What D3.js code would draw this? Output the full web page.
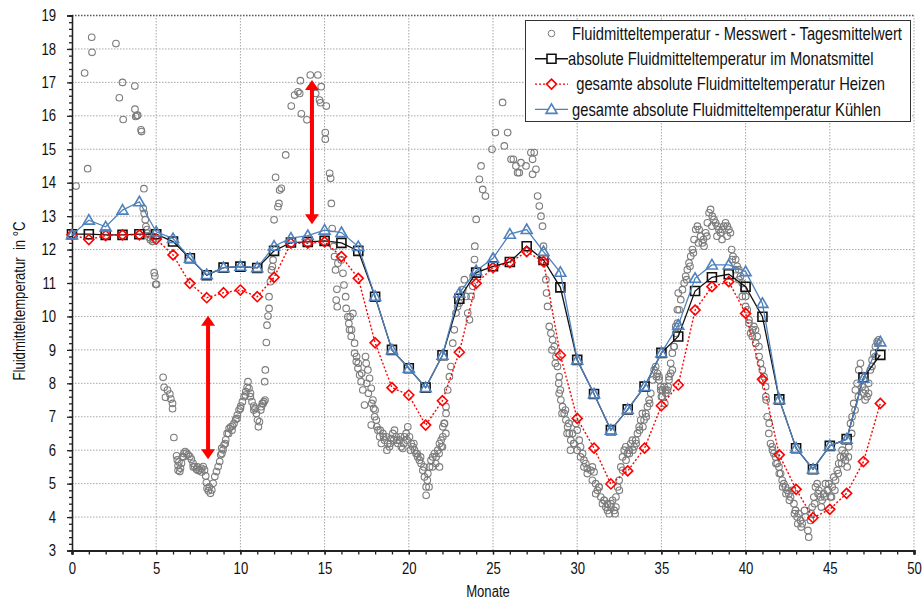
<!DOCTYPE html>
<html>
<head>
<meta charset="utf-8">
<script src="https://cdn.jsdelivr.net/npm/d3@7"></script>
<style>
  body { margin: 0; background: #fff; }
  text { font-family: "Liberation Sans", Arial, sans-serif; fill: #111; }
</style>
</head>
<body>
<svg id="chart" width="922" height="601"></svg>
<script>
// --- data ---
const months = d3.range(0, 49);

const monthlyMean = [
  12.46, 12.46, 12.44, 12.44, 12.46, 12.46, 12.24, 11.74, 11.23, 11.46,
  11.49, 11.45, 11.96, 12.21, 12.23, 12.26, 12.2, 11.96, 10.59, 9.0,
  8.45, 7.87, 8.84, 10.53, 11.31, 11.5, 11.63, 12.1, 11.69, 10.87,
  8.7, 7.68, 6.6, 7.22, 7.9, 8.91, 9.4, 10.76, 11.17, 11.26,
  10.89, 9.99, 7.52, 6.06, 5.43, 6.13, 6.33, 8.17, 8.85
];

const heatingTemp = [
  12.44, 12.3, 12.42, 12.44, 12.44, 12.31, 11.84, 10.99, 10.56, 10.71,
  10.79, 10.59, 11.17, 12.19, 12.19, 12.23, 11.79, 11.14, 9.21, 7.87,
  7.65, 6.75, 7.48, 8.93, 10.99, 11.46, 11.61, 11.94, 11.64, 8.84,
  6.95, 6.06, 4.99, 5.38, 6.06, 7.33, 7.95, 10.19, 10.89, 11.04,
  10.09, 8.12, 5.86, 4.83, 3.98, 4.23, 4.71, 5.66, 7.4
];

const coolingTemp = [
  12.44, 12.88, 12.68, 13.18, 13.43, 12.53, 12.33, 11.74, 11.25, 11.46,
  11.5, 11.46, 12.1, 12.34, 12.42, 12.58, 12.51, 12.09, 10.6, 9.0,
  8.45, 7.87, 8.84, 10.7, 11.37, 11.74, 12.46, 12.6, 11.94, 11.32,
  8.7, 7.68, 6.6, 7.22, 7.9, 8.91, 9.74, 11.14, 11.54, 11.54,
  11.34, 10.39, 7.52, 6.06, 5.43, 6.13, 6.33, 8.15, 9.24
];

// daily means: [month, temperature]
const dailyPoints = [
  [0.24,13.9],[0.75,17.28],[0.93,14.42],[1.17,18.35],[1.19,17.9],[2.61,18.16],[2.81,16.54],[3.0,17.0],
  [3.04,15.89],[3.73,16.89],[3.74,16.2],[3.78,15.98],[3.85,16.0],[3.9,16.02],[4.1,15.58],[4.13,15.53],
  [4.27,13.82],[4.23,13.23],[4.29,13.08],[4.35,12.89],[4.39,12.69],[4.45,12.6],[4.49,12.49],[4.57,12.37],
  [4.66,12.29],[4.72,12.42],[4.78,12.24],[4.84,12.3],[4.88,11.31],[4.92,11.21],[4.97,10.96],[5.02,10.96],
  [5.41,8.18],[5.47,7.88],[5.55,7.58],[5.67,7.8],[5.81,7.68],[5.87,7.53],[5.97,7.4],[5.97,7.24],[6.05,6.38],
  [6.21,5.83],[6.25,5.71],[6.3,5.54],[6.4,5.36],[6.44,5.46],[6.5,5.61],[6.56,5.81],[6.64,5.9],[6.72,5.96],
  [6.8,5.91],[6.9,5.86],[7.0,5.81],[7.09,5.73],[7.19,5.61],[7.29,5.51],[7.39,5.43],[7.49,5.39],[7.59,5.41],
  [7.69,5.46],[7.79,5.51],[7.87,5.41],[7.94,5.23],[7.98,5.03],[8.02,4.86],[8.1,4.79],[8.22,4.71],[8.3,4.81],
  [8.38,5.01],[8.48,5.21],[8.58,5.36],[8.68,5.51],[8.77,5.66],[8.83,5.86],[8.89,6.06],[8.97,6.01],[9.03,6.16],
  [9.13,6.31],[9.21,6.5],[9.33,6.65],[9.43,6.7],[9.53,6.72],[9.62,6.8],[9.72,6.92],[9.82,7.05],[9.92,7.2],
  [10.02,7.32],[10.12,7.45],[10.22,7.6],[10.32,7.75],[10.4,7.88],[10.45,8.05],[10.51,7.85],[10.59,7.6],
  [10.69,7.45],[10.79,7.32],[10.87,7.25],[10.95,7.1],[11.01,6.9],[11.07,6.7],[11.13,6.85],[11.21,7.2],
  [11.3,7.4],[11.4,7.45],[11.46,7.5],[11.44,8.05],[11.48,8.4],[11.54,9.22],[11.58,9.74],[11.64,10.01],[11.7,10.24],
  [6.3,5.4],[6.35,5.65],[6.62,5.8],[7.2,5.5],[7.45,5.5],[7.7,5.35],[8.15,4.9],[8.9,5.9],[9.1,6.2],[9.3,6.5],
  [9.5,6.6],[9.8,6.95],[10.0,7.25],[10.3,7.65],[10.6,7.7],[10.8,7.2],[11.25,7.3],[11.35,7.4],
  [11.7,10.59],[11.78,11.04],[11.84,11.39],[11.94,11.69],[11.9,11.49],[12.0,12.89],[12.09,14.16],[12.23,13.28],
  [12.29,13.38],[12.33,13.78],[12.43,13.83],[12.69,14.83],[13.02,16.29],[13.22,16.62],[13.42,16.72],[13.52,16.67],
  [13.56,17.05],[13.62,16.06],[13.95,15.88],[14.15,17.22],[14.6,17.22],[14.47,16.67],[14.7,16.47],[14.8,16.87],
  [14.76,16.39],[15.1,16.29],[15.04,15.5],[15.04,15.3],[15.3,14.28],[15.36,14.13],[15.4,13.38],[15.45,12.63],
  [15.53,12.09],[15.59,11.79],[15.65,11.39],[15.73,10.81],[15.69,10.49],[15.75,10.29],[15.79,11.59],[15.99,11.69],
  [16.09,11.29],[16.15,10.94],[16.25,10.59],[16.28,10.24],[16.38,9.99],[16.44,9.79],[16.52,9.99],[16.48,9.6],
  [16.58,9.4],[16.68,10.09],[16.78,9.2],[16.78,8.9],[16.88,8.65],[16.98,8.45],[17.08,8.25],[17.17,8.05],
  [17.27,7.8],[17.37,7.35],[17.43,8.8],[17.47,8.6],[17.57,8.4],[17.67,8.15],[17.77,7.85],[17.87,7.5],
  [17.91,7.25],[17.97,7.0],[17.77,6.75],[18.07,6.9],[18.17,6.6],[18.27,6.4],[18.37,6.2],[18.46,6.5],
  [18.56,6.3],[18.66,6.4],[18.75,6.2],[18.85,6.1],[18.95,6.35],[19.05,6.5],[19.15,6.6],[19.25,6.4],
  [19.35,6.2],[19.45,6.3],[19.55,6.1],[19.64,6.05],[19.74,6.4],[19.84,6.5],[19.94,6.7],[20.04,6.4],
  [20.14,6.2],[20.24,6.1],[20.34,6.0],[20.43,5.9],[20.53,5.8],[20.63,5.7],[20.73,5.6],[20.83,5.4],
  [20.93,5.2],[21.03,4.9],[21.03,4.65],[21.13,5.3],[21.23,5.5],[21.32,5.7],[21.42,5.8],[21.52,5.9],
  [21.62,5.8],[21.72,6.0],[21.82,6.2],[21.92,6.3],[22.02,6.4],[22.12,6.8],[22.21,7.1],
  [16.6,9.6],[16.9,8.8],[17.0,8.6],[17.2,8.3],[17.5,8.0],[17.6,7.7],[17.8,7.4],[18.0,7.2],[18.1,6.7],
  [18.3,6.6],[18.5,6.4],[18.7,6.0],[18.9,6.2],[19.1,6.3],[19.3,6.3],[19.5,6.4],[19.7,6.2],[19.9,6.3],
  [20.1,6.0],[20.3,6.2],[20.5,5.9],[20.7,5.8],[20.9,5.5],[21.1,5.1],[21.2,4.9],[21.4,5.5],[21.6,5.6],
  [21.8,5.9],[22.0,6.1],[22.2,6.5],
  [21.82,5.5],[21.92,6.1],[22.02,6.7],[22.1,6.8],[22.21,7.3],[22.31,7.8],[22.41,8.2],[22.5,8.5],[22.61,9.2],
  [22.7,9.6],[22.8,10.1],[22.9,10.3],[23.0,10.4],[23.1,10.6],[23.2,10.8],[23.3,11.1],[23.4,10.6],[23.5,10.1],
  [23.6,9.9],[23.7,10.6],[23.8,10.9],[23.82,11.2],[23.9,11.7],[23.92,12.1],[24.0,12.9],[24.19,14.1],
  [24.29,14.5],[24.39,13.8],[24.55,13.6],[24.94,15.0],[25.14,15.5],[25.57,16.4],[25.67,15.1],[25.87,15.5],
  [26.07,14.7],[26.21,14.7],[26.36,14.5],[26.46,14.3],[26.56,14.3],[26.66,14.6],[26.96,14.5],[27.25,14.9],
  [27.35,14.7],[27.45,14.9],[27.55,14.4],[27.35,14.25],[27.65,13.6],[27.75,13.3],[27.85,13.0],[27.94,12.7],
  [28.0,12.1],[28.04,11.6],[28.14,11.1],[28.18,10.7],[28.24,10.3],[28.34,9.7],[28.44,9.5],[28.54,9.3],
  [28.64,9.1],[28.74,8.8],[28.83,8.5],[28.93,8.2],[28.93,7.7],[29.03,7.5],[29.13,7.3],[29.23,7.1],
  [29.33,6.9],[29.43,6.7],[29.53,6.5],[29.62,6.3],[29.72,6.5],[29.8,6.2],[29.92,6.8],[30.0,6.6],
  [30.12,6.3],[30.2,6.1],[30.32,5.9],[30.4,5.7],[30.51,5.6],[30.6,5.45],[30.81,5.4],[30.9,5.5],
  [31.0,5.35],[31.1,5.0],[31.2,4.8],[31.3,4.9],[31.4,4.6],[31.5,4.4],[31.6,4.5],[31.7,4.3],[31.8,4.2],
  [31.9,4.1],[32.0,4.3],[32.1,4.5],[32.2,4.2],[32.25,4.1],[32.3,4.6],[32.4,4.9],[32.49,5.1],[32.59,5.5],
  [32.69,5.8],[32.79,6.0],[32.88,6.1],[32.98,5.9],[33.08,6.0],[33.18,6.2],[33.28,6.3],[33.38,6.1],
  [33.48,6.3],[33.58,6.5],[33.68,6.7],[33.77,6.9],[33.87,7.1],[33.97,6.9],[34.07,7.1],[34.17,7.3],
  [34.27,7.5],[34.37,7.7],[34.47,8.1],[34.57,8.4],[34.66,8.5],[34.76,8.3],[34.86,8.1],[34.96,7.9],
  [35.06,7.8],[35.16,7.9],[35.26,7.7],[35.36,7.8],[35.45,8.1],[35.55,8.3],[35.65,8.4],[35.75,9.1],
  [35.85,9.7],[35.95,10.2],[36.0,10.7],
  [28.5,9.0],[28.7,8.6],[28.9,8.0],[29.0,7.8],[29.1,7.1],[29.3,7.2],[29.4,6.5],[29.5,6.8],[29.6,6.0],
  [29.8,6.2],[30.0,6.0],[30.2,5.8],[30.4,5.5],[30.6,5.3],[30.9,5.1],[31.1,4.7],[31.3,4.9],[31.6,4.5],
  [31.8,4.4],[32.0,4.4],[32.3,4.3],[32.5,4.8],[32.7,5.4],[32.9,5.7],[33.1,5.9],[33.3,6.0],[33.5,6.2],
  [33.7,6.6],[33.9,6.7],[34.1,7.0],[34.3,7.4],[34.7,8.2],[35.0,7.6],[35.2,7.4],[35.4,7.9],
  [34.86,8.2],[34.96,7.8],[35.06,7.6],[35.26,7.8],[35.45,8.2],[35.55,8.6],[35.65,8.9],[35.75,9.1],
  [35.85,9.5],[35.95,9.8],[36.05,10.2],[36.15,10.5],[36.25,10.8],[36.35,11.0],[36.44,11.2],[36.54,11.4],
  [36.64,11.6],[36.74,11.8],[36.84,12.0],[36.94,12.3],[37.04,12.6],[37.14,12.7],[37.24,12.6],[37.33,12.4],
  [37.43,12.2],[37.53,12.1],[37.63,12.5],[37.73,12.8],[37.83,13.1],[37.92,13.2],[38.02,13.0],[38.12,12.9],
  [38.22,12.8],[38.32,12.7],[38.42,12.6],[38.51,12.5],[38.61,12.6],[38.71,12.7],[38.81,12.8],[38.91,12.7],
  [39.01,12.6],[39.1,12.5],[39.17,12.0],[39.25,11.8],[39.41,11.7],[39.5,11.5],[39.6,11.4],[39.7,11.2],
  [39.8,11.0],[39.9,10.8],[40.0,10.6],[40.1,10.2],[40.2,9.8],[40.3,9.5],[40.4,9.6],[40.49,9.7],
  [40.59,9.6],[40.69,9.4],[40.79,9.1],[40.89,8.6],[40.99,8.4],[41.09,8.2],[41.19,7.9],[41.22,7.5],
  [41.28,7.0],[41.38,6.5],[41.48,6.2],[41.58,6.1],[41.68,5.9],[41.78,5.8],[41.88,5.6],[41.98,5.5],
  [42.08,5.3],[42.17,5.1],[42.27,5.0],[42.37,4.9],[42.47,4.8],[42.57,4.7],[42.67,4.6],[42.77,4.8],
  [42.87,4.4],[42.96,4.2],[43.06,4.0],[43.16,4.1],[43.26,3.9],[43.36,3.8],[43.56,4.0],[43.75,3.4],
  [43.85,3.9],[43.95,4.3],[44.05,4.6],[44.15,4.9],[44.25,5.0],[44.35,4.8],[44.45,4.6],[44.54,4.5],
  [44.64,4.7],[44.74,5.0],[44.84,4.8],[44.94,5.0],[45.04,4.6],[45.14,4.9],[45.24,5.2],[45.34,5.1],
  [45.44,5.4],[45.53,5.6],[45.63,5.8],[45.73,6.0],[45.83,5.8],[45.93,5.7],[46.03,5.5],[46.13,6.1],
  [46.23,6.8],[46.32,7.0],[46.42,7.4],[46.52,7.8],[46.62,8.0],[46.72,8.4],[46.82,8.6],[46.92,7.9],
  [47.02,7.7],[47.11,7.8],[47.21,7.6],[47.31,8.0],[47.41,8.4],[47.51,8.7],[47.61,8.9],[47.71,9.1],
  [47.81,9.25],[47.9,9.3],
  [36.5,11.1],[36.7,11.5],[36.9,11.9],[37.2,12.2],[37.5,12.3],[37.7,12.4],[38.0,12.7],[38.3,12.4],
  [38.6,12.3],[38.9,12.4],[39.2,11.7],[39.4,11.4],[39.6,11.1],[39.8,10.6],[40.0,10.3],[40.2,9.9],
  [40.4,9.4],[40.6,9.2],[40.8,8.8],[41.0,8.1],[41.2,7.6],[41.4,6.8],[41.6,6.0],[41.8,5.6],[42.0,5.3],
  [42.2,4.9],[42.4,4.7],[42.6,4.5],[42.9,4.1],[43.1,3.8],[43.3,3.7],[43.5,4.2],[43.7,3.6],[43.9,4.1],
  [44.1,4.4],[44.3,4.7],[44.5,4.3],[44.7,4.6],[44.9,4.8],[45.1,4.6],[45.3,4.8],[45.5,5.3],[45.7,5.6],
  [45.9,5.9],[46.1,5.8],[46.3,6.5],[46.5,7.2],[46.7,7.6],[46.9,8.2],[47.1,7.5],[47.3,7.7],[47.5,8.5],
  [47.7,8.8],[47.85,9.2]
];

// annotation arrows: month, upper tip, lower tip
const arrowMonths = [8.08, 14.25];
const arrowTop = [10.02, 17.07];
const arrowBottom = [5.73, 12.76];

const xTickValues = d3.range(0, 51, 5);
const yTickValues = d3.range(3, 20, 1);

const legendLabels = [
  " Fluidmitteltemperatur - Messwert - Tagesmittelwert",
  "absolute Fluidmitteltemperatur im Monatsmittel",
  "  gesamte absolute Fluidmitteltemperatur Heizen",
  " gesamte absolute Fluidmitteltemperatur Kühlen"
];

// --- setup ---
const svg = d3.select("#chart");
const margin = { left: 72, right: 8, top: 15.5, bottom: 50.5 };
const width = 922, height = 601;
const NARROW = 0.82; // Arial Narrow look

const x = d3.scaleLinear().domain([0, 50]).range([margin.left, width - margin.right]);
const y = d3.scaleLinear().domain([3, 19]).range([height - margin.bottom, margin.top]);

const BLUE = "#4f81bd";
const RED = "#ff0000";

// gridlines
const grid = svg.append("g");
grid.selectAll(".gy").data(yTickValues.filter(d => d > 3)).join("line")
  .attr("x1", x(0)).attr("x2", x(50))
  .attr("y1", d => y(d)).attr("y2", d => y(d))
  .attr("stroke", d => d === 19 ? "#555" : "#a6a6a6")
  .attr("stroke-width", d => d === 19 ? 1.6 : 1)
  .attr("stroke-dasharray", "1.5,1.5");
grid.selectAll(".gx").data(xTickValues.filter(d => d > 0)).join("line")
  .attr("y1", y(3)).attr("y2", y(19))
  .attr("x1", d => x(d)).attr("x2", d => x(d))
  .attr("stroke", "#a6a6a6")
  .attr("stroke-dasharray", "1.5,1.5");

// daily scatter
svg.append("g").selectAll("circle").data(dailyPoints).join("circle")
  .attr("cx", d => x(d[0])).attr("cy", d => y(d[1]))
  .attr("r", 3.3)
  .attr("fill", "none")
  .attr("stroke", "#7c7c7c")
  .attr("stroke-width", 1.1);

// axes
const yMinor = d3.axisLeft(y).tickValues(d3.range(30, 191, 2).map(d => d / 10)).tickSize(3).tickFormat("");
const yMajor = d3.axisLeft(y).tickValues(yTickValues).tickSize(5).tickPadding(11);
const xMinor = d3.axisBottom(x).tickValues(d3.range(0, 51, 1)).tickSize(4).tickFormat("");
const xMajor = d3.axisBottom(x).tickValues(xTickValues).tickSize(4).tickPadding(8);

function styleAxis(g) {
  g.select(".domain").attr("stroke", "#222").attr("stroke-width", 1.3);
  g.selectAll(".tick line").attr("stroke", "#222").attr("stroke-width", 1.3);
  g.selectAll(".tick text").attr("font-size", 16).attr("font-family", null).attr("fill", "#111");
}

svg.append("g").attr("transform", `translate(${x(0)},0)`).call(yMinor).call(styleAxis);
const yAxisG = svg.append("g").attr("transform", `translate(${x(0)},0)`).call(yMajor).call(styleAxis);
yAxisG.selectAll(".tick text")
  .attr("x", -16 / NARROW)
  .attr("transform", `scale(${NARROW},1)`);

svg.append("g").attr("transform", `translate(0,${y(3)})`).call(xMinor).call(styleAxis)
  .select(".domain").attr("stroke-width", 2.2);
const xAxisG = svg.append("g").attr("transform", `translate(0,${y(3)})`).call(xMajor).call(styleAxis);
xAxisG.select(".domain").attr("stroke-width", 2.2);
xAxisG.selectAll(".tick text").attr("transform", `scale(${NARROW},1)`);

// axis titles
svg.append("text")
  .attr("transform", `translate(488,597) scale(${NARROW},1)`)
  .attr("text-anchor", "middle")
  .attr("font-size", 16)
  .text("Monate");

svg.append("text")
  .attr("transform", `translate(25,301) rotate(-90) scale(${NARROW},1)`)
  .attr("text-anchor", "middle")
  .attr("font-size", 16)
  .style("white-space", "pre")
  .text("Fluidmitteltemperatur  in °C");

// series
const lineOf = arr => d3.line().x((d, i) => x(months[i])).y(d => y(d))(arr);

const squarePath = "M-4.5,-4.5H4.5V4.5H-4.5Z";
const diamondPath = "M0,-5L5,0L0,5L-5,0Z";
const trianglePath = "M0,-5.5L5.5,4L-5.5,4Z";

function drawSeries(values, color, dash, shape) {
  const g = svg.append("g");
  g.append("path")
    .attr("d", lineOf(values))
    .attr("fill", "none")
    .attr("stroke", color)
    .attr("stroke-width", dash ? 1.4 : 1.3)
    .attr("stroke-dasharray", dash);
  g.selectAll("path.m").data(values).join("path")
    .attr("class", "m")
    .attr("d", shape)
    .attr("transform", (d, i) => `translate(${x(months[i])},${y(d)})`)
    .attr("fill", "none")
    .attr("stroke", color)
    .attr("stroke-width", 1.6);
}

drawSeries(monthlyMean, "#111", null, squarePath);
drawSeries(heatingTemp, RED, "2,2", diamondPath);
drawSeries(coolingTemp, BLUE, null, trianglePath);

// arrows
const arrowG = svg.append("g").attr("fill", RED).attr("stroke", "none");
arrowMonths.forEach((m, i) => {
  const ax = x(m), yt = y(arrowTop[i]), yb = y(arrowBottom[i]);
  arrowG.append("line")
    .attr("x1", ax).attr("x2", ax).attr("y1", yt + 8).attr("y2", yb - 8)
    .attr("stroke", RED).attr("stroke-width", 4);
  arrowG.append("path").attr("d", `M${ax},${yt}L${ax + 7},${yt + 10}L${ax - 7},${yt + 10}Z`);
  arrowG.append("path").attr("d", `M${ax},${yb}L${ax + 7},${yb - 10}L${ax - 7},${yb - 10}Z`);
});

// legend
const legend = svg.append("g");
legend.append("rect")
  .attr("x", 525.5).attr("y", 20.5).attr("width", 385).attr("height", 101)
  .attr("fill", "#fff").attr("stroke", "#333").attr("stroke-width", 1);

const legendShapes = [null, squarePath, diamondPath, trianglePath];
const legendColors = ["#7c7c7c", "#111", RED, BLUE];
const legendDash = [null, null, "2,2", null];

legendLabels.forEach((label, i) => {
  const ly = 33.5 + i * 25.3;
  const row = legend.append("g");
  if (i === 0) {
    row.append("circle").attr("cx", 551.5).attr("cy", ly).attr("r", 3.3)
      .attr("fill", "none").attr("stroke", legendColors[i]);
  } else {
    row.append("line").attr("x1", 535).attr("x2", 568).attr("y1", ly).attr("y2", ly)
      .attr("stroke", legendColors[i]).attr("stroke-width", 1.4)
      .attr("stroke-dasharray", legendDash[i]);
    row.append("path").attr("d", legendShapes[i])
      .attr("transform", `translate(551.5,${ly})`)
      .attr("fill", "#fff").attr("stroke", legendColors[i]).attr("stroke-width", 1.6);
  }
  row.append("text")
    .attr("transform", `translate(568,${ly}) scale(${NARROW},1)`)
    .attr("dy", "0.35em")
    .attr("font-size", 18)
    .style("white-space", "pre")
    .text(label);
});
</script>
</body>
</html>
